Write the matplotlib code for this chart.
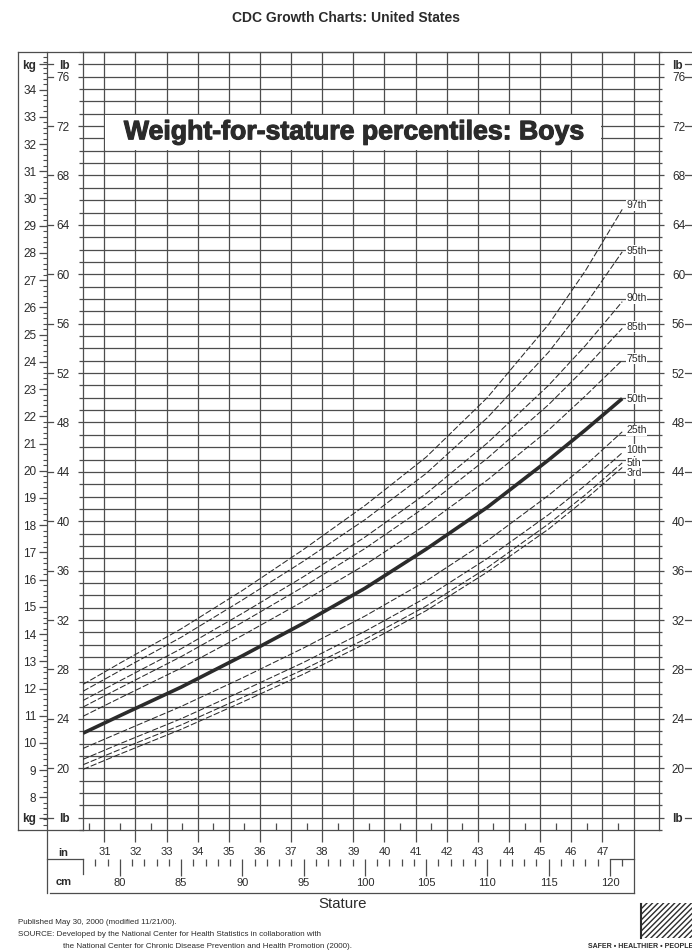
import matplotlib
matplotlib.use("Agg")
import matplotlib.pyplot as plt
import matplotlib.patheffects as pe
from matplotlib.patches import Rectangle
from matplotlib.lines import Line2D
from matplotlib.ticker import FixedLocator, MultipleLocator
from matplotlib.transforms import blended_transform_factory

plt.rcParams["font.family"] = ["Liberation Sans", "DejaVu Sans"]

LB = 0.45359237   # kg per lb
IN = 2.54         # cm per inch

# stature points (cm) and weight percentiles (kg)
stature = [77, 80, 85, 90, 95, 100, 105, 110, 115, 118, 121]
p3 = [9.03, 9.59, 10.50, 11.50, 12.53, 13.64, 14.86, 16.28, 17.86, 18.95, 20.12]
p5 = [9.20, 9.76, 10.66, 11.67, 12.70, 13.81, 15.03, 16.44, 18.05, 19.12, 20.29]
p10 = [9.40, 9.97, 10.89, 11.91, 12.96, 14.10, 15.34, 16.78, 18.39, 19.47, 20.66]
p25 = [9.80, 10.38, 11.34, 12.39, 13.49, 14.66, 15.95, 17.43, 19.10, 20.20, 21.43]
p50 = [10.36, 11.00, 12.05, 13.20, 14.40, 15.68, 17.12, 18.66, 20.40, 21.50, 22.65]
p75 = [10.98, 11.65, 12.75, 13.95, 15.21, 16.54, 18.02, 19.66, 21.50, 22.75, 24.06]
p85 = [11.32, 12.02, 13.17, 14.43, 15.74, 17.14, 18.69, 20.46, 22.43, 23.78, 25.23]
p90 = [11.56, 12.28, 13.46, 14.76, 16.11, 17.56, 19.16, 21.02, 23.14, 24.60, 26.21]
p95 = [11.90, 12.65, 13.88, 15.25, 16.68, 18.20, 19.90, 21.95, 24.36, 26.10, 28.04]
p97 = [12.15, 12.93, 14.19, 15.60, 17.11, 18.72, 20.50, 22.69, 25.38, 27.35, 29.60]

pct_names = ["3rd", "5th", "10th", "25th", "50th", "75th", "85th", "90th", "95th", "97th"]
pct_values = [p3, p5, p10, p25, p50, p75, p85, p90, p95, p97]

# axis scales
lb_labeled = list(range(20, 77, 4))
kg_labeled = list(range(8, 35))
inch_labeled = list(range(31, 48))
cm_labeled = list(range(80, 121, 5))

W, H = 692, 952
INK = "#2b2b2b"
GRID = "#4d4d4d"


def fx(px):
    return px / W


def fy(py):
    return 1 - py / H


fig = plt.figure(figsize=(W / 100, H / 100), dpi=100)
fig.patch.set_facecolor("white")

ax = fig.add_axes([fx(83), fy(830), (659 - 83) / W, (830 - 52) / H])
ax.set_xlim(77, 124)
ax.set_ylim(15 * LB, 78 * LB)
for s in ax.spines.values():
    s.set_color(GRID)
    s.set_linewidth(0.9)

# grid: every lb, every inch
for lb in range(16, 78):
    ax.axhline(lb * LB, color=GRID, lw=0.9, zorder=1)
for inch in range(31, 49):
    ax.axvline(inch * IN, color=GRID, lw=0.9, zorder=1)

# half-inch ticks inside the bottom edge
ax.set_xticks([(i + 0.5) * IN for i in range(30, 48)])
ax.tick_params(axis="x", direction="in", length=5, width=0.9, color=GRID,
               labelbottom=False, top=False)
ax.set_yticks([])

# title block inside the grid
ax.add_patch(Rectangle((31 * IN + 0.08, 70 * LB + 0.03), 16 * IN - 0.16, 3 * LB - 0.06,
                       facecolor="white", edgecolor="none", zorder=2))
ax.text(39 * IN, 71.5 * LB, "Weight-for-stature percentiles: Boys", ha="center",
        va="center", fontsize=19.2, fontweight="bold", color=INK, zorder=3,
        path_effects=[pe.withStroke(linewidth=0.8, foreground=INK)])

# percentile curves
label_nudge = {"97th": 3, "95th": 0.7, "90th": 2.5, "85th": 1, "75th": 1,
               "50th": 0, "25th": 1, "10th": 2, "5th": 0, "3rd": -4}
for name, vals in zip(pct_names, pct_values):
    if name == "50th":
        ax.plot(stature, vals, color=INK, lw=2.6, solid_capstyle="butt", zorder=4)
    else:
        ax.plot(stature, vals, color=INK, lw=0.75, ls=(0, (6, 2)), zorder=4)
    ax.annotate(name, xy=(stature[-1], vals[-1]), xytext=(3, label_nudge[name]),
                textcoords="offset points", fontsize=7.6, color=INK, ha="left", va="center",
                bbox=dict(fc="white", ec="none", pad=0.4), zorder=5, annotation_clip=False)

kg2lb = (lambda k: k / LB, lambda l: l * LB)
lb_ticks = [16] + lb_labeled + [77]
lb_text = ["lb"] + [str(v) for v in lb_labeled] + ["lb"]

# lb scales left and right
for side, pad in (("left", 5.8), ("right", 5.5)):
    sec = ax.secondary_yaxis(side, functions=kg2lb)
    sec.set_yticks(lb_ticks, labels=lb_text)
    sec.yaxis.set_minor_locator(MultipleLocator(1))
    sec.tick_params(which="major", direction="out", length=3.8, width=0.9, color=GRID,
                    pad=pad, labelsize=8.5, labelcolor=INK)
    sec.tick_params(which="minor", direction="out", length=3 if side == "left" else 2.2,
                    width=0.9, color=GRID)
    sec.spines[side].set_visible(False)
    for t in sec.get_yticklabels():
        if t.get_text() == "lb":
            t.set_fontweight("bold")

# kg scale on the far left
axk = fig.add_axes([fx(46.7), fy(830), 1e-4, (830 - 52) / H])
axk.set_ylim(ax.get_ylim())
axk.set_xticks([])
for s in axk.spines.values():
    s.set_visible(False)
axk.set_yticks([16 * LB] + kg_labeled + [77 * LB],
               labels=["kg"] + [str(v) for v in kg_labeled] + ["kg"])
axk.yaxis.set_minor_locator(MultipleLocator(0.2))
axk.tick_params(which="major", direction="out", length=5.5, width=0.9, color=GRID,
                pad=2, labelsize=8.5, labelcolor=INK)
axk.tick_params(which="minor", direction="out", length=3, width=0.8, color=GRID)
for t in axk.get_yticklabels():
    if t.get_text() == "kg":
        t.set_fontweight("bold")

# small ticks flanking the lb labels
bt_y = blended_transform_factory(fig.transFigure, ax.transData)
for v in lb_ticks:
    ax.plot([fx(46.7), fx(52.5)], [v * LB] * 2, transform=bt_y, clip_on=False,
            color=GRID, lw=0.9)
    ax.plot([fx(685), fx(692)], [v * LB] * 2, transform=bt_y, clip_on=False,
            color=GRID, lw=0.9)

# inch scale
sec_in = ax.secondary_xaxis("bottom", functions=(lambda c: c / IN, lambda i: i * IN))
sec_in.set_xticks(inch_labeled)
sec_in.tick_params(direction="out", length=8.6, width=0.9, color=GRID, pad=3.5,
                   labelsize=8, labelcolor=INK)
sec_in.spines["bottom"].set_visible(False)

# cm scale
sec_cm = ax.secondary_xaxis(-(859 - 830) / (830 - 52), functions=(lambda c: c, lambda c: c))
sec_cm.set_xticks(cm_labeled)
sec_cm.xaxis.set_minor_locator(FixedLocator(list(range(78, 122))))
sec_cm.tick_params(which="major", direction="out", length=12, width=0.9, color=GRID,
                   pad=1.5, labelsize=8, labelcolor=INK)
sec_cm.tick_params(which="minor", direction="out", length=5, width=0.9, color=GRID)
sec_cm.spines["bottom"].set_visible(False)

# frame lines
frame_kw = dict(color=GRID, lw=0.9)
fig.add_artist(Line2D([fx(18.3), fx(692)], [fy(52), fy(52)], **frame_kw))
fig.add_artist(Line2D([fx(18.3), fx(18.3)], [fy(52), fy(830)], **frame_kw))
fig.add_artist(Line2D([fx(18.3), fx(83)], [fy(830), fy(830)], **frame_kw))
fig.add_artist(Line2D([fx(46.7), fx(46.7)], [fy(52), fy(893)], **frame_kw))
fig.add_artist(Line2D([fx(46.7), fx(83)], [fy(859), fy(859)], **frame_kw))
bt_x = blended_transform_factory(ax.transData, fig.transFigure)
ax.plot([77, 77], [fy(859), fy(874)], transform=bt_x, clip_on=False, **frame_kw)
ax.plot([120, 48 * IN], [fy(859), fy(859)], transform=bt_x, clip_on=False, **frame_kw)
ax.plot([48 * IN, 48 * IN], [fy(830), fy(893)], transform=bt_x, clip_on=False, **frame_kw)
ax.plot([77 - 2.7, 48 * IN], [fy(893), fy(893)], transform=bt_x, clip_on=False, **frame_kw)

fig.text(fx(63.5), fy(852.7), "in", ha="center", va="center", fontsize=8,
         fontweight="bold", color=INK)
fig.text(fx(63.5), fy(882), "cm", ha="center", va="center", fontsize=8,
         fontweight="bold", color=INK)
fig.text(fx(343), fy(904), "Stature", ha="center", va="center", fontsize=10.8, color=INK)

# headings and footer
fig.text(0.5, fy(18), "CDC Growth Charts: United States", ha="center", va="center",
         fontsize=10, fontweight="bold", color=INK)
fig.text(fx(18), fy(923), "Published May 30, 2000 (modified 11/21/00).",
         fontsize=5.8, va="center", color=INK)
fig.text(fx(18), fy(935), "SOURCE: Developed by the National Center for Health Statistics "
         "in collaboration with", fontsize=5.8, va="center", color=INK)
fig.text(fx(63), fy(947), "the National Center for Chronic Disease Prevention and "
         "Health Promotion (2000).", fontsize=5.8, va="center", color=INK)

# CDC logo (rough)
fig.add_artist(Rectangle((fx(641), fy(938)), fx(51), 35 / H, transform=fig.transFigure,
                         facecolor="white", edgecolor=INK, lw=0, hatch="//////"))
fig.add_artist(Line2D([fx(641), fx(641)], [fy(904), fy(938)], color=INK, lw=1.5))
fig.text(fx(588), fy(947), "SAFER \u2022 HEALTHIER \u2022 PEOPLE", fontsize=5,
         fontweight="bold", va="center", color=INK)

fig.savefig("out.png", dpi=100, facecolor="white")
